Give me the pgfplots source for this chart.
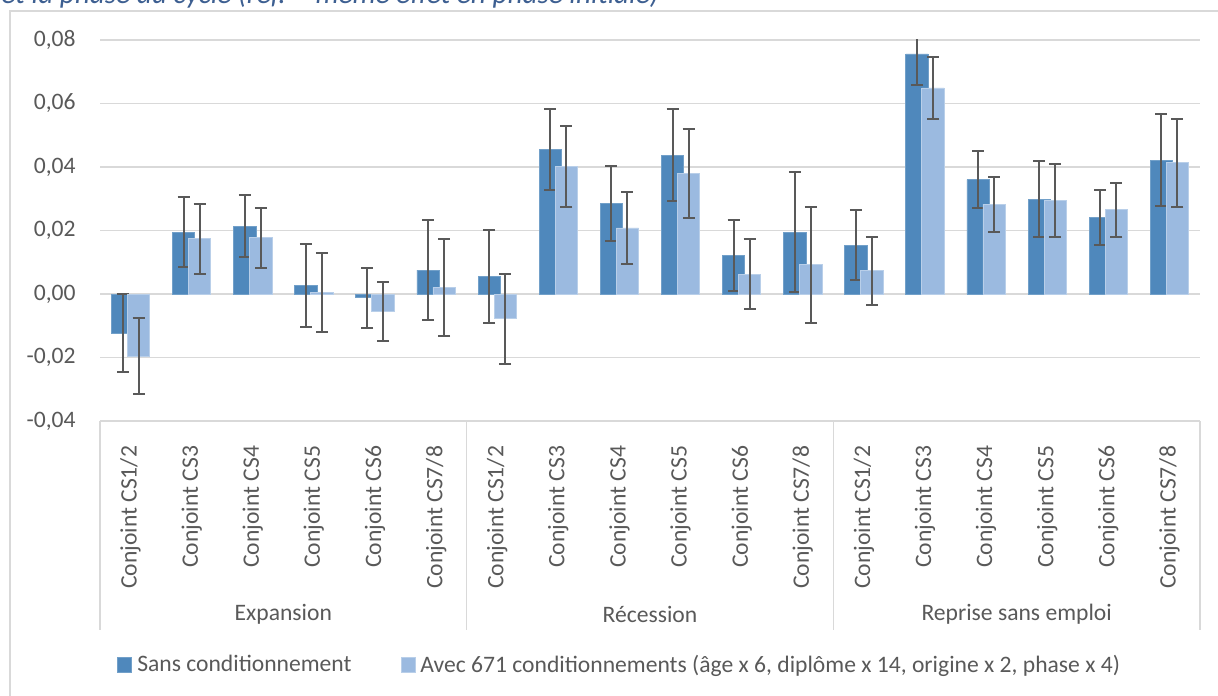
\documentclass[border=0pt]{standalone}
\usepackage{pgfplots}
\usepackage{pgfplotstable}
\pgfplotsset{compat=1.18}
\usepackage{fontspec}
\setmainfont{Carlito}
\definecolor{darkbar}{HTML}{4F88BC}
\definecolor{lightbar}{HTML}{9BBAE0}
\definecolor{txtgray}{HTML}{595959}
\definecolor{gridgray}{HTML}{D9D9D9}
\definecolor{errgray}{HTML}{595959}
\definecolor{titleblue}{HTML}{3D5F91}

\pgfplotstableread{
x y e
0 -0.0124 0.0123
1 0.0195 0.0110
2 0.0214 0.0098
3 0.0027 0.0130
4 -0.0012 0.0095
5 0.0075 0.0158
6 0.0055 0.0146
7 0.0456 0.0128
8 0.0285 0.0117
9 0.0437 0.0145
10 0.0122 0.0112
11 0.0195 0.0188
12 0.0154 0.0110
13 0.0756 0.0098
14 0.0360 0.0090
15 0.0298 0.0120
16 0.0242 0.0087
17 0.0421 0.0145
}\sans

\pgfplotstableread{
x y e
0 -0.0195 0.0120
1 0.0174 0.0110
2 0.0177 0.0095
3 0.0005 0.0125
4 -0.0055 0.0094
5 0.0021 0.0153
6 -0.0078 0.0142
7 0.0402 0.0128
8 0.0208 0.0113
9 0.0379 0.0140
10 0.0063 0.0110
11 0.0092 0.0183
12 0.0073 0.0107
13 0.0649 0.0097
14 0.0283 0.0087
15 0.0295 0.0115
16 0.0265 0.0085
17 0.0413 0.0139
}\avec

\begin{document}
\begin{tikzpicture}
\useasboundingbox (0,0) rectangle (609pt,-347.5pt);
\clip (0,0) rectangle (609pt,-347.5pt);
% chart border
\draw[gridgray, line width=0.75pt] (5pt,-360pt) -- (5pt,-5.5pt) -- (620pt,-5.5pt);
% title (cut)
\node[anchor=base west, inner sep=0pt, text=titleblue, font=\fontsize{14.6}{16}\selectfont\itshape] at (0.5pt,-1.8pt) {et la phase du cycle (réf. = même effet en phase initiale)};

\begin{axis}[
  scale only axis,
  width=550pt, height=190.5pt,
  at={(50pt,-210.5pt)}, anchor=south west,
  xmin=-0.5, xmax=17.5,
  ymin=-0.04, ymax=0.08,
  ytick={-0.04,-0.02,0,0.02,0.04,0.06,0.08},
  scaled y ticks=false,
  ymajorgrids,
  grid style={gridgray, line width=0.75pt},
  axis x line*=bottom,
  axis y line*=left,
  x axis line style={gridgray, line width=0.75pt, -},
  y axis line style={draw=none},
  major tick style={draw=none},
  xtick={0,...,17},
  xticklabels={Conjoint CS1/2,Conjoint CS3,Conjoint CS4,Conjoint CS5,Conjoint CS6,Conjoint CS7/8,Conjoint CS1/2,Conjoint CS3,Conjoint CS4,Conjoint CS5,Conjoint CS6,Conjoint CS7/8,Conjoint CS1/2,Conjoint CS3,Conjoint CS4,Conjoint CS5,Conjoint CS6,Conjoint CS7/8},
  xticklabel style={rotate=90, anchor=east, inner sep=0pt, text=txtgray, font=\fontsize{11.8}{14}\selectfont},
  xticklabel shift=8pt,
  yticklabel style={inner sep=0pt, xshift=-12pt, text=txtgray, font=\fontsize{11.8}{14}\selectfont},
  /pgf/number format/.cd, fixed, fixed zerofill, precision=2, use comma, assume math mode=true,
  /pgfplots/.cd,
  ybar, bar width=11.2pt,
  legend style={draw=none, fill=none, inner sep=0pt, at={(0.0155,-0.6404)}, anchor=west,
    legend columns=2, font=\fontsize{11.8}{14}\selectfont, text=txtgray,
    /tikz/every even column/.append style={column sep=22pt},
    nodes={inner sep=2.5pt}},
  legend image code/.code={\fill[#1] (0pt,-3.6pt) rectangle (7pt,3.6pt);},
]
\addplot[bar shift=-4pt, fill=darkbar, draw=darkbar!80!white, line width=0.4pt,
  error bars/.cd, y dir=both, y explicit, error mark=-,
  error bar style={errgray, line width=1pt},
  error mark options={errgray, line width=1pt, mark size=3pt, rotate=90}]
  table[x=x, y=y, y error=e] {\sans};
\addlegendentry{Sans conditionnement}
\addplot[bar shift=4pt, fill=lightbar, draw=lightbar!70!white, line width=0.4pt,
  error bars/.cd, y dir=both, y explicit, error mark=-,
  error bar style={errgray, line width=1pt},
  error mark options={errgray, line width=1pt, mark size=3pt, rotate=90}]
  table[x=x, y=y, y error=e] {\avec};
\addlegendentry{Avec 671 conditionnements (âge x 6, diplôme x 14, origine x 2, phase x 4)}
\end{axis}

% category group box
\draw[gridgray, line width=0.75pt] (50pt,-210.5pt) -- (50pt,-315pt);
\draw[gridgray, line width=0.75pt] (233.33pt,-210.5pt) -- (233.33pt,-315pt);
\draw[gridgray, line width=0.75pt] (416.67pt,-210.5pt) -- (416.67pt,-315pt);
\draw[gridgray, line width=0.75pt] (600pt,-210.5pt) -- (600pt,-315pt);
\node[text=txtgray, font=\fontsize{11.8}{14}\selectfont] at (141.67pt,-307pt) {Expansion};
\node[text=txtgray, font=\fontsize{11.8}{14}\selectfont] at (325pt,-307pt) {Récession};
\node[text=txtgray, font=\fontsize{11.8}{14}\selectfont] at (508.33pt,-307pt) {Reprise sans emploi};
\end{tikzpicture}
\end{document}
